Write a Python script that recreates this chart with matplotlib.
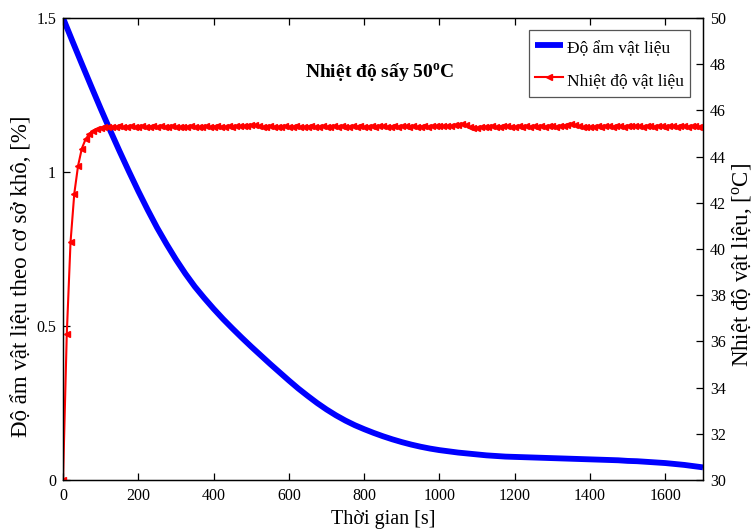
import matplotlib
matplotlib.use("Agg")
import matplotlib.pyplot as plt
from matplotlib.ticker import FixedLocator, FixedFormatter

plt.rcParams['font.family'] = ['Liberation Serif', 'DejaVu Serif']
plt.rcParams['mathtext.default'] = 'regular'

# Moisture content (dry basis) sampled every 25 s
moist_time = list(range(0, 1701, 25))
moisture = [
    1.500, 1.425, 1.351, 1.278, 1.206, 1.136, 1.068, 1.002, 0.938, 0.877,
    0.819, 0.766, 0.716, 0.670, 0.628, 0.591, 0.556, 0.523, 0.492, 0.462,
    0.433, 0.405, 0.377, 0.350, 0.323, 0.297, 0.273, 0.250, 0.229, 0.210,
    0.193, 0.178, 0.165, 0.153, 0.142, 0.132, 0.123, 0.115, 0.108, 0.102,
    0.097, 0.093, 0.089, 0.086, 0.083, 0.080, 0.078, 0.076, 0.075, 0.074,
    0.073, 0.072, 0.071, 0.070, 0.069, 0.068, 0.067, 0.066, 0.065, 0.064,
    0.062, 0.061, 0.059, 0.057, 0.055, 0.052, 0.049, 0.045, 0.041,
]

# Material temperature sampled every 10 s
temp_time = list(range(0, 1701, 10))
temperature = [
    30.00, 36.30, 40.30, 42.40, 43.60, 44.35, 44.75, 44.98, 45.12, 45.20,
    45.25, 45.28, 45.29,
    45.30, 45.28, 45.31, 45.29, 45.30, 45.32, 45.29, 45.30, 45.31, 45.28,
    45.30, 45.31, 45.29, 45.32, 45.30, 45.29, 45.31, 45.30, 45.28, 45.30,
    45.29, 45.31, 45.30, 45.28, 45.30, 45.31, 45.29, 45.30, 45.32, 45.30,
    45.29, 45.31, 45.30, 45.32, 45.31, 45.33, 45.34, 45.36, 45.35, 45.32,
    45.30, 45.29, 45.31, 45.30, 45.28, 45.30, 45.31, 45.29, 45.30, 45.31,
    45.30, 45.28, 45.30, 45.31, 45.29, 45.30, 45.32, 45.30, 45.29, 45.31,
    45.30, 45.31, 45.29, 45.30, 45.32, 45.30, 45.31, 45.29, 45.30, 45.31,
    45.30, 45.32, 45.31, 45.30, 45.29, 45.31, 45.30, 45.32, 45.31, 45.30,
    45.31, 45.29, 45.30, 45.32, 45.30, 45.31, 45.33, 45.31, 45.32, 45.31,
    45.33, 45.35, 45.38, 45.40, 45.36, 45.29, 45.25, 45.25, 45.27, 45.29,
    45.30, 45.31, 45.29, 45.30, 45.32, 45.31, 45.30, 45.29, 45.31, 45.30,
    45.32, 45.30, 45.31, 45.30, 45.31, 45.30, 45.32, 45.31, 45.30, 45.32,
    45.34, 45.37, 45.39, 45.36, 45.31, 45.27, 45.26, 45.28, 45.30, 45.31,
    45.30, 45.32, 45.31, 45.30, 45.32, 45.31, 45.30, 45.32, 45.31, 45.33,
    45.31, 45.30, 45.32, 45.31, 45.30, 45.32, 45.31, 45.30, 45.32, 45.31,
    45.30, 45.32, 45.31, 45.30, 45.32, 45.31, 45.30, 45.31,
]

x_ticks = [0, 200, 400, 600, 800, 1000, 1200, 1400, 1600]
left_ticks = [0, 0.5, 1, 1.5]
left_tick_labels = ['0', '0.5', '1', '1.5']
right_ticks = list(range(30, 51, 2))

fig = plt.figure(figsize=(7.55, 5.32), dpi=100)
ax = fig.add_axes([63 / 755, 52 / 532, 640 / 755, 462 / 532])
ax2 = ax.twinx()

l1, = ax.plot(moist_time, moisture, color='#0000ff', lw=4.2,
              solid_capstyle='butt', solid_joinstyle='round',
              label='Độ ẩm vật liệu')
l2, = ax2.plot(temp_time, temperature, color='#ff0000', lw=1.5,
               marker='<', markersize=4.5, markeredgewidth=1.0,
               label='Nhiệt độ vật liệu')

ax.set_xlim(0, 1700)
ax.set_ylim(0, 1.5)
ax2.set_ylim(30, 50)

ax.xaxis.set_major_locator(FixedLocator(x_ticks))
ax.yaxis.set_major_locator(FixedLocator(left_ticks))
ax.yaxis.set_major_formatter(FixedFormatter(left_tick_labels))
ax2.yaxis.set_major_locator(FixedLocator(right_ticks))

ax.tick_params(axis='x', direction='in', top=True, length=5, width=0.9,
               labelsize=11.5, pad=6)
ax.tick_params(axis='y', direction='in', right=False, length=5, width=0.9,
               labelsize=11.5, pad=5)
ax2.tick_params(axis='y', direction='in', length=5, width=0.9,
                labelsize=11.5, pad=5)
for a in (ax, ax2):
    for s in a.spines.values():
        s.set_linewidth(0.9)

ax.set_xlabel('Thời gian [s]', fontsize=14.5, labelpad=4)
ax.set_ylabel('Độ ẩm vật liệu theo cơ sở khô, [%]', fontsize=16.5, labelpad=3)
ax2.set_ylabel('Nhiệt độ vật liệu, [$^{o}$C]', fontsize=16.5, labelpad=3)
ax.yaxis.label.set_y(0.44)
ax2.yaxis.label.set_y(0.465)

ax.text(842, 1.325, 'Nhiệt độ sấy 50$^{o}$C', fontsize=14, fontweight='bold',
        ha='center', va='center')

leg = ax2.legend(handles=[l1, l2], loc='upper right',
                 bbox_to_anchor=(0.98, 0.974), borderaxespad=0,
                 fontsize=12.5, fancybox=False, framealpha=1,
                 edgecolor='#555555', handlelength=1.6, handleheight=1.6,
                 borderpad=0.35, labelspacing=0.6, handletextpad=0.25)
leg.get_frame().set_linewidth(0.9)

fig.savefig('out.png', dpi=100)
